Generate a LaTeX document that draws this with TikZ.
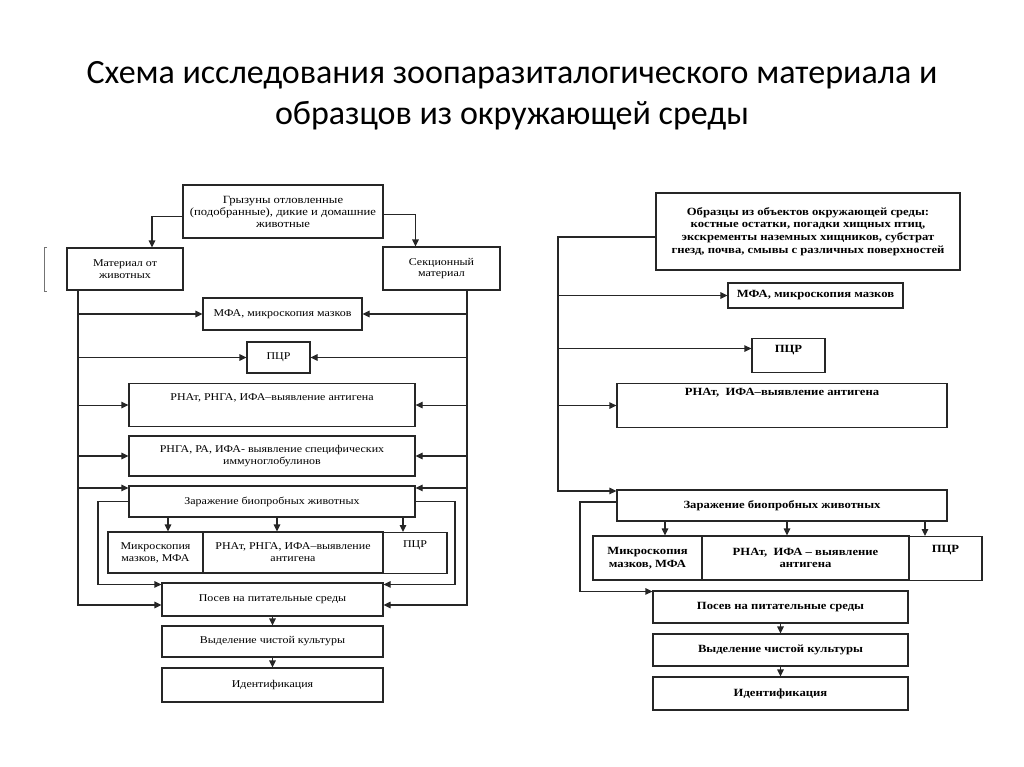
\documentclass[tikz,border=0pt]{standalone}
\usepackage{fontspec}
\setmainfont{Liberation Serif}
\newfontfamily\titlefont{Carlito}
\newfontfamily\scanfont[FakeStretch=1.15]{Liberation Serif}
\usetikzlibrary{arrows.meta}

\tikzset{
  box/.style={draw=black!85, line width=1.1pt, inner sep=1pt, align=center},
  lbox/.style={box, font=\scanfont\fontsize{10.4}{11.8}\selectfont},
  rbox/.style={box, font=\scanfont\fontsize{11}{12.8}\selectfont\bfseries},
  toptext/.style 2 args={anchor=north, inner ysep=0pt, minimum height=0pt, text height=#1, text depth=#2},
  wire/.style={draw=black!85, line width=1.1pt},
  arr/.style={wire, -{Triangle[length=7pt,width=6.5pt]}},
}

\begin{document}
\begin{tikzpicture}[x=1pt, y=-1pt]
    \useasboundingbox[fill=white] (0,0) rectangle (1024,767);

    \node[font=\titlefont\fontsize{34}{41}\selectfont, align=center] (title) at (512,96)
        {Схема исследования зоопаразиталогического материала и\\ образцов из окружающей среды};

    % left scheme
    \node[lbox, font=\scanfont\fontsize{11}{12}\selectfont, minimum width=200pt, minimum height=53pt] (src1) at (283,211.5) {Грызуны отловленные\\ (подобранные), дикие и домашние\\ животные};
    \node[lbox, minimum width=116pt, minimum height=42pt] (mat1) at (125,269) {Материал от\\ животных};
    \node[lbox, minimum width=117pt, minimum height=43pt] (sec1) at (441.5,268.5) {Секционный\\ материал};
    \node[lbox, minimum width=159pt, minimum height=32pt] (mfa1) at (282.5,314) {МФА, микроскопия мазков};
    \node[lbox, minimum width=63pt, minimum height=31pt] (pcr1) at (278.5,357.5) {ПЦР};
    \node[lbox, minimum width=286pt, toptext={16.5pt}{26.5pt}] (rna1) at (272,383) {РНАт, РНГА, ИФА–выявление антигена};
    \node[lbox, minimum width=286pt, minimum height=40pt] (rnga1) at (272,456) {РНГА, РА, ИФА- выявление специфических\\ иммуноглобулинов};
    \node[lbox, minimum width=286pt, minimum height=31pt] (inf1) at (272,501.5) {Заражение биопробных животных};
    \node[lbox, minimum width=95pt, minimum height=41pt] (micro1) at (155.5,552.5) {Микроскопия\\ мазков, МФА};
    \node[lbox, minimum width=180pt, minimum height=41pt] (rnat1) at (293,552.5) {РНАт, РНГА, ИФА–выявление\\ антигена};
    \node[lbox, minimum width=64pt, toptext={14.5pt}{26.5pt}] (pcrb1) at (415,532) {ПЦР};
    \node[lbox, minimum width=221pt, minimum height=33pt] (sow1) at (272.5,599.5) {Посев на питательные среды};
    \node[lbox, minimum width=221pt, minimum height=31pt] (pure1) at (272.5,641.5) {Выделение чистой культуры};
    \node[lbox, minimum width=221pt, minimum height=34pt] (ident1) at (272.5,685) {Идентификация};

    \coordinate (bl1) at (78,0);
    \coordinate (br1) at (467,0);
    \coordinate (il1) at (98,0);
    \coordinate (ir1) at (455,0);
    \coordinate (e1) at ([yshift=-2.5pt]inf1.north west);
    \coordinate (e2) at ([yshift=-2.5pt]inf1.north east);
    \coordinate (s1) at ([yshift=-2pt]sow1.north west);
    \coordinate (s2) at ([yshift=-2pt]sow1.north east);

    \draw[arr] ([yshift=-5pt]src1.west) -| ([xshift=27pt]mat1.north);
    \draw[arr] ([yshift=-3pt]src1.east) -| ([xshift=-26pt]sec1.north);
    \draw[arr] (mat1.south -| bl1) |- ([yshift=-5.5pt]sow1.west);
    \draw[arr] (sec1.south -| br1) |- ([yshift=-5.5pt]sow1.east);
    \foreach \n in {mfa1,pcr1,rna1,rnga1} {
        \draw[arr] (\n.west -| bl1) -- (\n.west);
        \draw[arr] (\n.east -| br1) -- (\n.east);
    }
    \draw[arr] (e1 -| bl1) -- (e1);
    \draw[arr] (e2 -| br1) -- (e2);
    \draw[arr] (inf1.west) -| (il1 |- s1) -- (s1);
    \draw[arr] (inf1.east) -| (ir1 |- s2) -- (s2);
    \foreach \x/\n in {168/micro1, 277/rnat1, 403/pcrb1}
        \draw[arr] (inf1.south -| \x,0) -- (\n.north -| \x,0);
    \draw[arr] (sow1) -- (pure1);
    \draw[arr] (pure1) -- (ident1);

    \draw[black!55, line width=0.9pt] (47,247) -- (44.5,247) -- (44.5,291) -- (47,291);

    % right scheme
    \node[rbox, minimum width=304pt, minimum height=77pt] (src2) at (808,231.5) {Образцы из объектов окружающей среды:\\ костные остатки, погадки хищных птиц,\\ экскременты наземных хищников, субстрат\\ гнезд, почва, смывы с различных поверхностей};
    \node[rbox, minimum width=175pt, minimum height=25pt] (mfa2) at (815.5,295.5) {МФА, микроскопия мазков};
    \node[rbox, minimum width=73pt, toptext={13.8pt}{20.2pt}] (pcr2) at (788.5,338) {ПЦР};
    \node[rbox, minimum width=330pt, toptext={11.8pt}{32.2pt}] (rna2) at (782,383) {РНАт,\ \ ИФА–выявление антигена};
    \node[rbox, minimum width=330pt, minimum height=31pt] (inf2) at (782,505.5) {Заражение биопробных животных};
    \node[rbox, minimum width=109pt, minimum height=44pt] (micro2) at (647.5,558) {Микроскопия\\ мазков, МФА};
    \node[rbox, minimum width=207pt, minimum height=44pt] (rnat2) at (805.5,558) {РНАт,\ \ ИФА – выявление\\ антигена};
    \node[rbox, minimum width=73pt, toptext={15.8pt}{28.2pt}] (pcrb2) at (945.5,536) {ПЦР};
    \node[rbox, minimum width=255pt, minimum height=32pt] (sow2) at (780.5,607) {Посев на питательные среды};
    \node[rbox, minimum width=255pt, minimum height=32pt] (pure2) at (780.5,650) {Выделение чистой культуры};
    \node[rbox, minimum width=255pt, minimum height=33pt] (ident2) at (780.5,693.5) {Идентификация};

    \coordinate (bl2) at (558,0);
    \coordinate (il2) at (580,0);
    \coordinate (e3) at ([yshift=-1.5pt]inf2.north west);
    \coordinate (e4) at ([yshift=7pt]pcr2.west);
    \coordinate (s3) at ([yshift=-1pt]sow2.north west);

    \draw[arr] ([yshift=-5.5pt]src2.west) -| (bl2 |- e3) -- (e3);
    \foreach \n in {mfa2,rna2}
        \draw[arr] (\n.west -| bl2) -- (\n.west);
    \draw[arr] (e4 -| bl2) -- (e4);
    \draw[arr] ([yshift=3.5pt]inf2.west) -| (il2 |- s3) -- (s3);
    \foreach \x/\n in {665/micro2, 787/rnat2, 925/pcrb2}
        \draw[arr] (inf2.south -| \x,0) -- (\n.north -| \x,0);
    \draw[arr] (sow2) -- (pure2);
    \draw[arr] (pure2) -- (ident2);
\end{tikzpicture}
\end{document}
